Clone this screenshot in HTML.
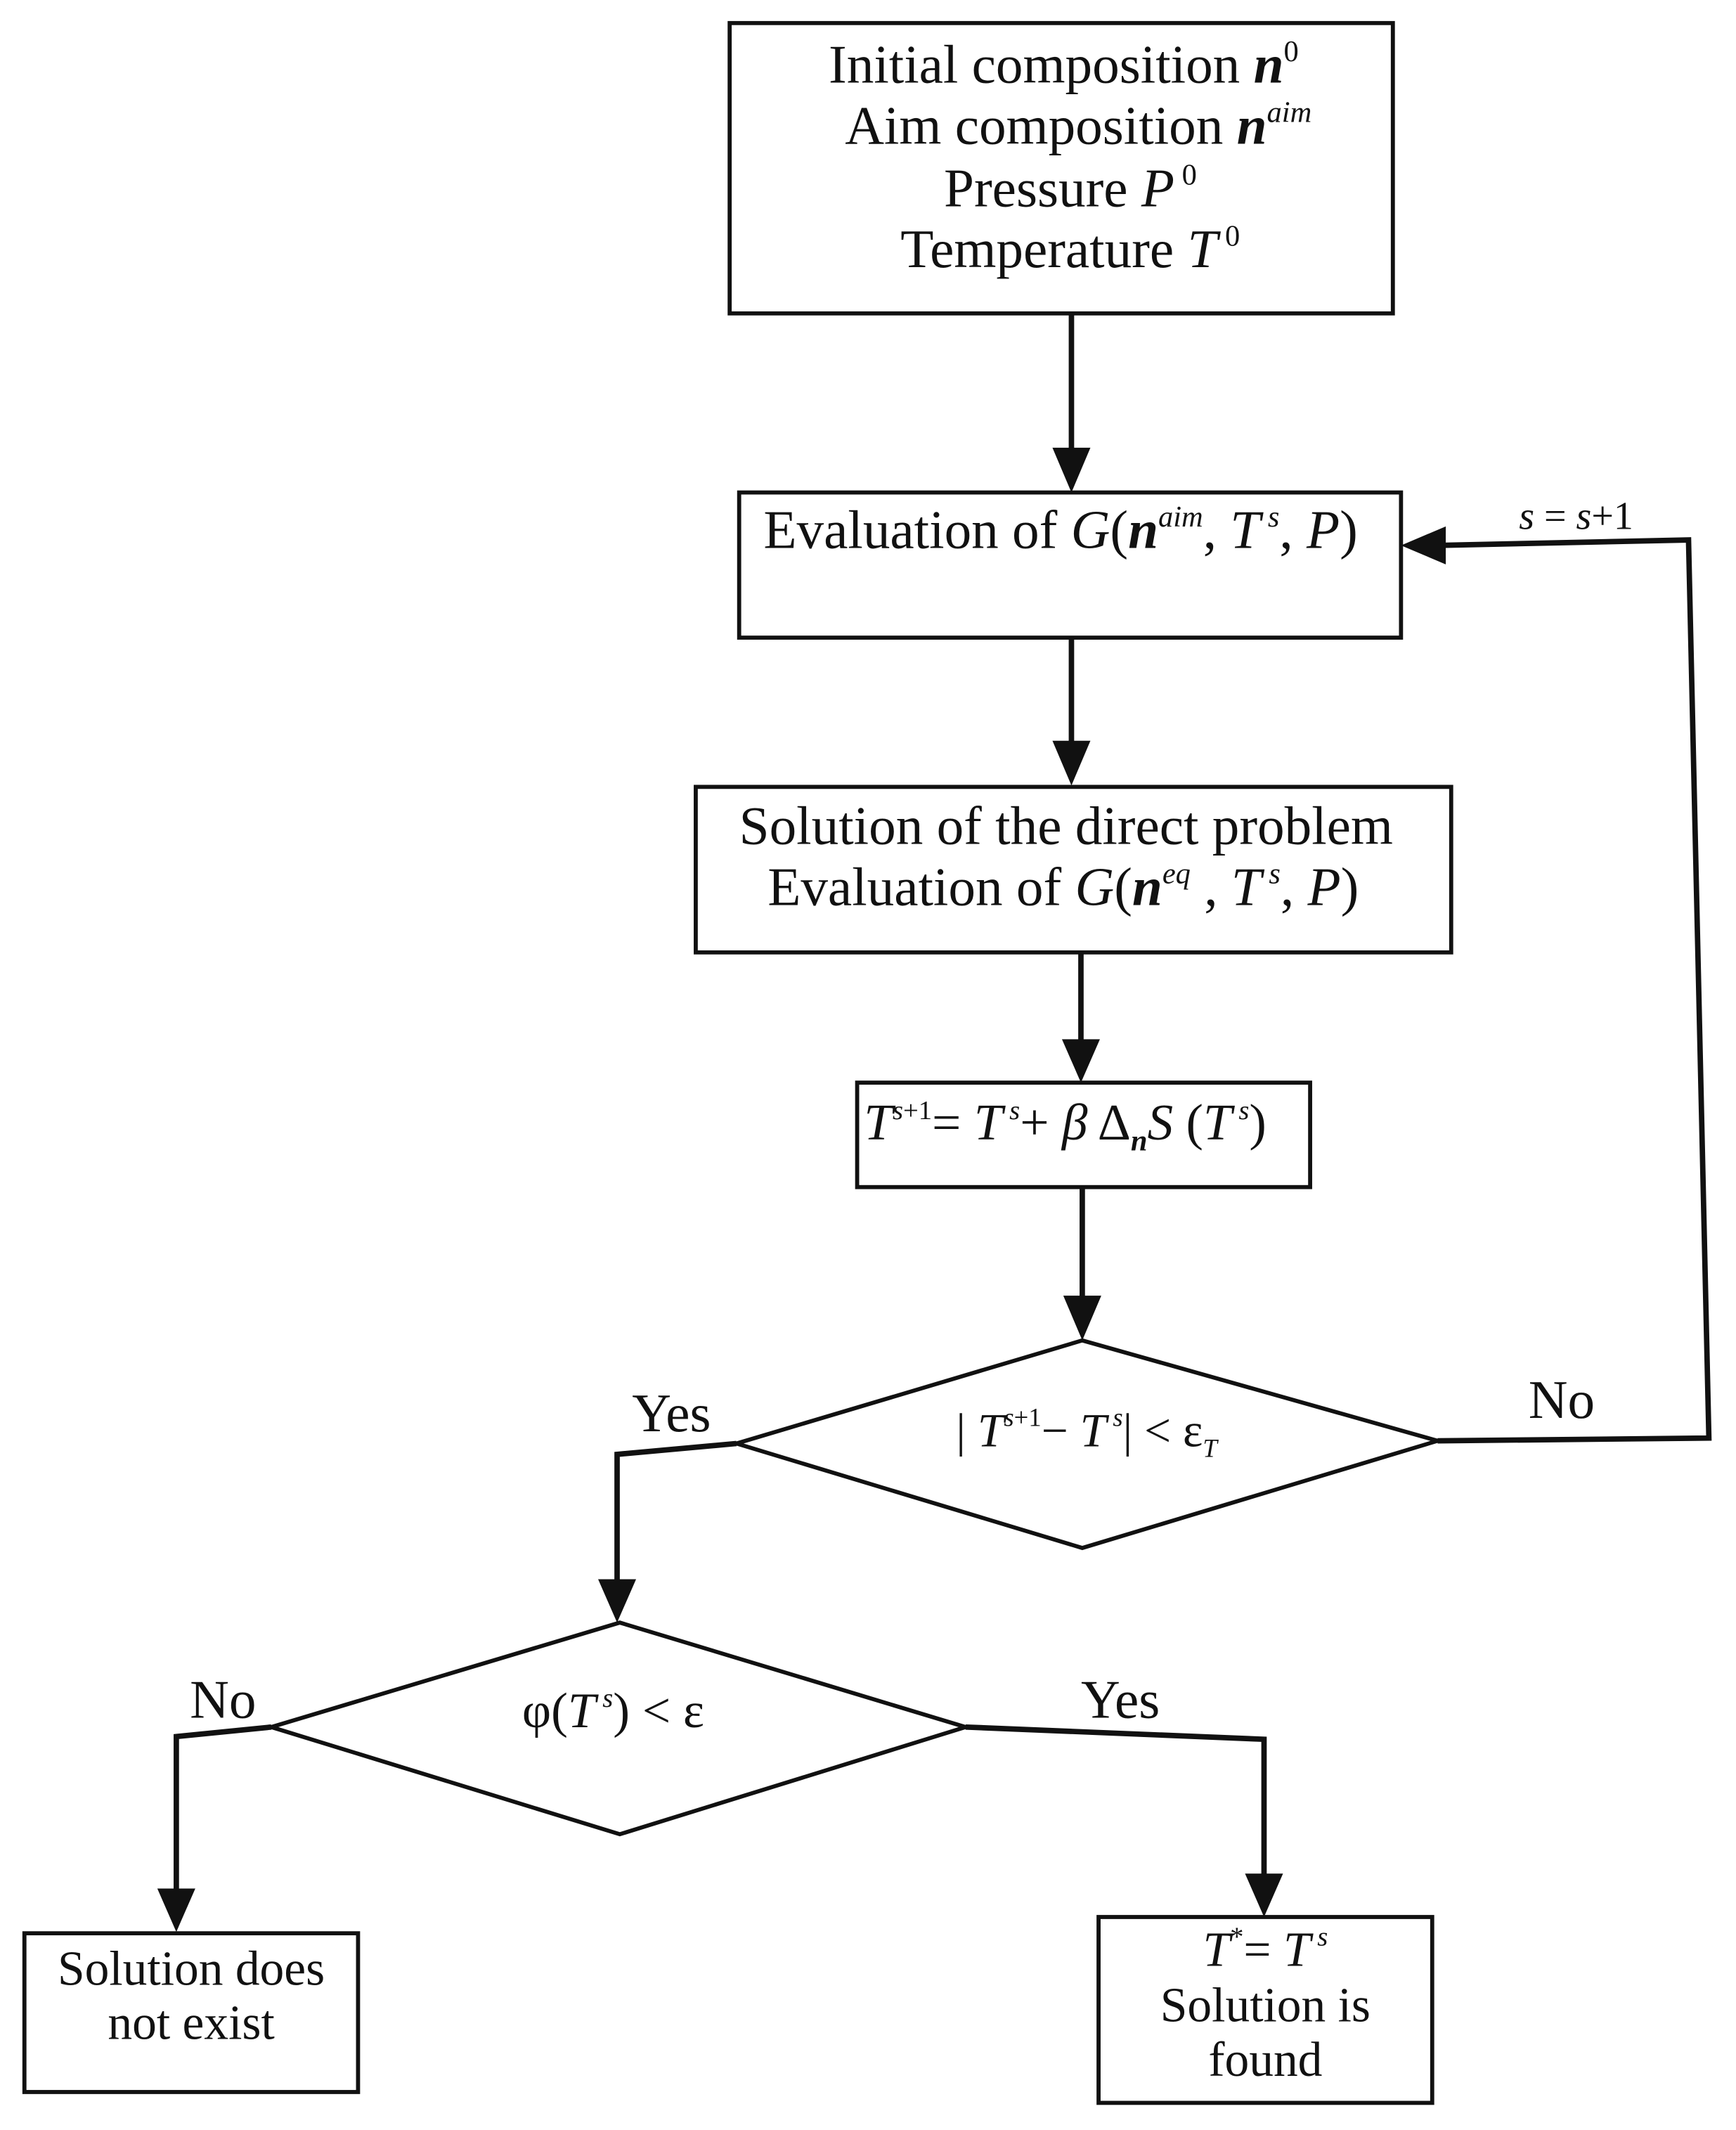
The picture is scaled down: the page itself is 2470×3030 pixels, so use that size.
<!DOCTYPE html>
<html><head><meta charset="utf-8">
<style>
html,body{margin:0;padding:0;background:#fff;}
svg{display:block;}
text{font-family:"Liberation Serif",serif;fill:#111;}
</style></head>
<body>
<svg width="2470" height="3030" viewBox="0 0 1280 1570" preserveAspectRatio="none" xmlns="http://www.w3.org/2000/svg">
<g stroke="#111" stroke-width="3" fill="none">
<rect x="538" y="17" width="489" height="214"/>
<rect x="545" y="363" width="488" height="107"/>
<rect x="513" y="580" width="557" height="122"/>
<rect x="632" y="798" width="334" height="77"/>
<polygon points="798,988 1060,1062 798,1141 543,1064"/>
<polygon points="457,1196 712,1273 457,1352 200,1273"/>
<rect x="18" y="1425" width="246" height="117"/>
<rect x="810" y="1413" width="246" height="137"/>
</g>
<g stroke="#111" stroke-width="4" fill="none">
<line x1="790" y1="231" x2="790" y2="335"/>
<line x1="790" y1="470" x2="790" y2="550"/>
<line x1="797" y1="702" x2="797" y2="770"/>
<line x1="798" y1="875" x2="798" y2="960"/>
<polyline points="1060,1062 1260,1060 1245,398 1060,402"/>
<polyline points="543,1064 455,1072 455,1168"/>
<polyline points="200,1273 130,1280 130,1396"/>
<polyline points="712,1273 932,1282 932,1386"/>
</g>
<g fill="#111">
<polygon points="776,330 804,330 790,363"/>
<polygon points="776,546 804,546 790,579"/>
<polygon points="783,766 811,766 797,798"/>
<polygon points="784,955 812,955 798,988"/>
<polygon points="1066,388 1066,416 1033,402"/>
<polygon points="441,1164 469,1164 455,1196"/>
<polygon points="116,1392 144,1392 130,1424"/>
<polygon points="918,1381 946,1381 932,1413"/>
</g>
<g font-size="40">
<text x="611" y="61">Initial composition <tspan font-weight="bold" font-style="italic">n</tspan><tspan font-size="22" dy="-16">0</tspan></text>
<text x="623" y="106">Aim composition <tspan font-weight="bold" font-style="italic">n</tspan><tspan font-size="22" dy="-16" font-style="italic">aim</tspan></text>
<text x="696" y="152">Pressure <tspan font-style="italic">P</tspan><tspan font-size="22" dy="-16"> 0</tspan></text>
<text x="664" y="197">Temperature <tspan font-style="italic">T</tspan><tspan font-size="22" dy="-16"> 0</tspan></text>
<text x="563" y="404">Evaluation of <tspan font-style="italic">G</tspan>(<tspan font-weight="bold" font-style="italic">n</tspan><tspan font-size="22" dy="-16" font-style="italic">aim</tspan><tspan dy="16">, </tspan><tspan font-style="italic">T</tspan><tspan font-size="22" dy="-16" font-style="italic"> s</tspan><tspan dy="16">, </tspan><tspan font-style="italic">P</tspan>)</text>
<text x="545" y="622">Solution of the direct problem</text>
<text x="566" y="667">Evaluation of <tspan font-style="italic">G</tspan>(<tspan font-weight="bold" font-style="italic">n</tspan><tspan font-size="22" dy="-16" font-style="italic">eq</tspan><tspan dy="16"> , </tspan><tspan font-style="italic">T</tspan><tspan font-size="22" dy="-16" font-style="italic"> s</tspan><tspan dy="16">, </tspan><tspan font-style="italic">P</tspan>)</text>
</g>
<text x="637" y="840" font-size="38"><tspan font-style="italic">T</tspan><tspan font-size="20" dy="-15" font-style="italic">s</tspan><tspan font-size="20">+1</tspan><tspan dy="15">= </tspan><tspan font-style="italic">T</tspan><tspan font-size="20" dy="-15" font-style="italic"> s</tspan><tspan dy="15">+ </tspan><tspan font-style="italic">β</tspan> Δ<tspan font-size="22" dy="8" font-weight="bold" font-style="italic">n</tspan><tspan dy="-8" font-style="italic">S</tspan> (<tspan font-style="italic">T</tspan><tspan font-size="20" dy="-15" font-style="italic"> s</tspan><tspan dy="15">)</tspan></text>
<text x="705" y="1066" font-size="35">| <tspan font-style="italic">T</tspan><tspan font-size="19" dy="-15" font-style="italic">s</tspan><tspan font-size="19">+1</tspan><tspan dy="15">− </tspan><tspan font-style="italic">T</tspan><tspan font-size="19" dy="-15" font-style="italic"> s</tspan><tspan dy="15">| &lt; ε</tspan><tspan font-size="19" dy="8" font-style="italic">T</tspan></text>
<text x="385" y="1273" font-size="37">φ(<tspan font-style="italic">T</tspan><tspan font-size="20" dy="-15" font-style="italic"> s</tspan><tspan dy="15">) &lt; ε</tspan></text>
<g font-size="40">
<text x="466" y="1055">Yes</text>
<text x="1127" y="1045">No</text>
<text x="140" y="1266">No</text>
<text x="797" y="1266">Yes</text>
</g>
<text x="1120" y="390" font-size="29"><tspan font-style="italic">s</tspan> = <tspan font-style="italic">s</tspan>+1</text>
<g font-size="36" text-anchor="middle">
<text x="141" y="1463">Solution does</text>
<text x="141" y="1503">not exist</text>
<text x="933" y="1449"><tspan font-style="italic">T</tspan><tspan font-size="20" dy="-15">*</tspan><tspan dy="15">= </tspan><tspan font-style="italic">T</tspan><tspan font-size="20" dy="-15" font-style="italic"> s</tspan></text>
<text x="933" y="1490">Solution is</text>
<text x="933" y="1530">found</text>
</g>
</svg>
</body></html>
